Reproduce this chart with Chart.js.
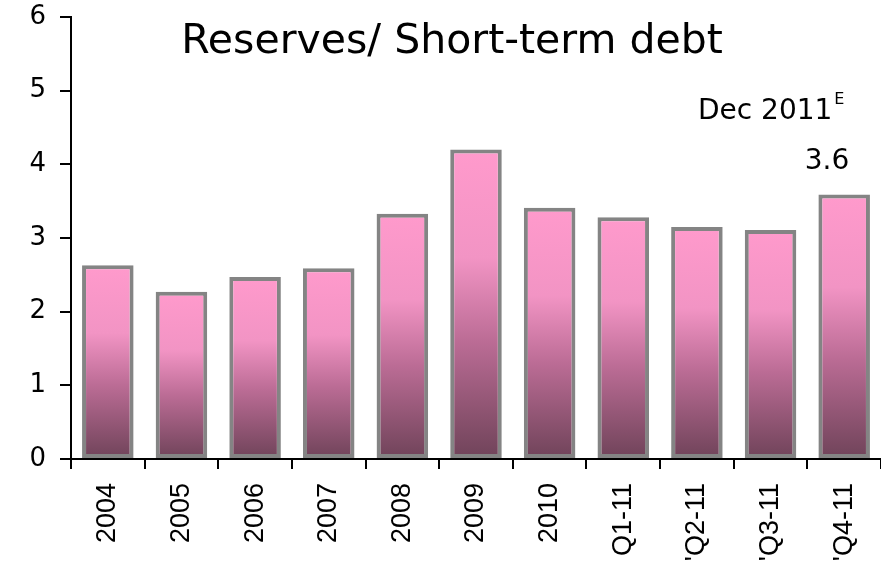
<!DOCTYPE html>
<html>
<head>
<meta charset="utf-8">
<script src="https://cdn.jsdelivr.net/npm/chart.js@4"></script>
<style>
  html, body { margin: 0; padding: 0; background: #fff; }
  #wrap { width: 881px; height: 563px; }
</style>
</head>
<body>
<div id="wrap"><canvas id="ratioChart"></canvas></div>
<script>
// ---- data ----
const categories = ['2004', '2005', '2006', '2007', '2008', '2009', '2010', 'Q1-11', "'Q2-11", "'Q3-11", "'Q4-11"];
const ratioValues = [2.63, 2.27, 2.47, 2.59, 3.33, 4.2, 3.41, 3.28, 3.15, 3.11, 3.59];
const yTicks = [0, 1, 2, 3, 4, 5, 6];

const chartTitle = 'Reserves/ Short-term debt';
const noteLabel = 'Dec 2011';
const noteSup = 'E';
const noteValue = '3.6';

// per-bar vertical gradient, pink at top to plum at the base
function barGradient(ctx) {
    const chart = ctx.chart;
    const y = chart.scales.y;
    if (!y || ctx.type !== 'data') return '#f99ac9';
    const top = y.getPixelForValue(ctx.raw);
    const base = y.getPixelForValue(0);
    if (!isFinite(top) || !isFinite(base) || top === base) return '#f99ac9';
    const g = chart.ctx.createLinearGradient(0, top, 0, base);
    g.addColorStop(0, '#ff9acc');
    g.addColorStop(0.35, '#f294c4');
    g.addColorStop(0.62, '#bb6c95');
    g.addColorStop(1, '#6f4359');
    return g;
}

// title and Dec 2011 note are drawn on top of the plot area
const textPlugin = {
    id: 'overlayText',
    afterDraw(chart) {
        const c = chart.ctx;
        c.save();
        c.fillStyle = '#000';
        c.textBaseline = 'middle';
        c.textAlign = 'center';
        c.font = '41px "DejaVu Sans", sans-serif';
        c.fillText(chartTitle, 452, 42);

        c.textAlign = 'left';
        c.font = '28px "DejaVu Sans", sans-serif';
        c.fillText(noteLabel, 698, 112);
        const w = c.measureText(noteLabel).width;
        c.font = '16px "DejaVu Sans", sans-serif';
        c.fillText(noteSup, 698 + w + 2, 100);

        c.font = '28px "DejaVu Sans", sans-serif';
        c.textAlign = 'center';
        c.fillText(noteValue, 827, 162);
        c.restore();
    }
};

new Chart(document.getElementById('ratioChart'), {
    type: 'bar',
    data: {
        labels: categories,
        datasets: [{
            data: ratioValues,
            backgroundColor: barGradient,
            borderColor: '#848484',
            borderWidth: 4,
            borderSkipped: false,
            barPercentage: 0.7,
            categoryPercentage: 1
        }]
    },
    options: {
        responsive: true,
        maintainAspectRatio: false,
        animation: false,
        layout: { padding: { top: 17, right: 0, left: 0, bottom: 0 } },
        plugins: {
            legend: { display: false },
            title: { display: false },
            tooltip: { enabled: false }
        },
        scales: {
            x: {
                afterFit(scale) {
                    scale.height = 104;
                    scale.paddingLeft = 0;
                    scale.paddingRight = 0;
                },
                grid: {
                    offset: true,
                    drawOnChartArea: false,
                    drawTicks: true,
                    tickLength: 10,
                    color: '#000',
                    lineWidth: 2
                },
                border: { color: '#000', width: 2 },
                ticks: {
                    minRotation: 90,
                    maxRotation: 90,
                    autoSkip: false,
                    padding: 14,
                    color: '#000',
                    font: { family: '"Liberation Sans", Arial, sans-serif', size: 27 }
                }
            },
            y: {
                min: 0,
                max: 6,
                afterFit(scale) {
                    scale.width = 71;
                    scale.paddingTop = 0;
                    scale.paddingBottom = 0;
                },
                afterBuildTicks(scale) { scale.ticks = yTicks.map(v => ({ value: v })); },
                grid: {
                    drawOnChartArea: false,
                    drawTicks: true,
                    tickLength: 11,
                    color: '#000',
                    lineWidth: 2
                },
                border: { color: '#000', width: 2 },
                ticks: {
                    padding: 14,
                    color: '#000',
                    font: { family: '"DejaVu Sans", sans-serif', size: 26 }
                }
            }
        }
    },
    plugins: [textPlugin]
});
</script>
</body>
</html>
